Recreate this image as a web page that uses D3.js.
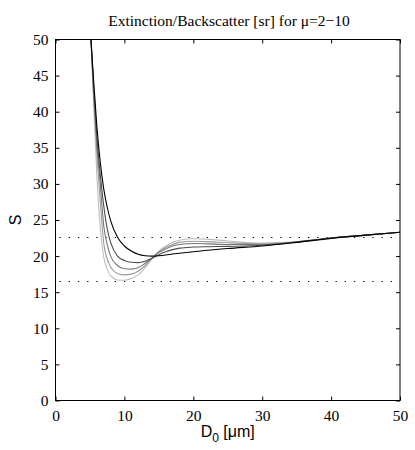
<!DOCTYPE html>
<html>
<head>
<meta charset="utf-8" />
<title>Extinction/Backscatter</title>
<style>
  html, body { margin: 0; background: #fff; }
  svg text { fill: #000; }
</style>
</head>
<body>
<div id="container"></div>
<script src="https://cdn.jsdelivr.net/npm/d3@7"></script>
<script>
var diam = [5.15, 5.5, 6, 6.5, 7, 7.5, 8, 9, 10, 11, 12, 13, 14, 15, 16, 17, 18, 20, 22, 25, 30, 35, 40, 45, 50];

// S [sr] for mu = 2, 4, 6, 8, 10 (black -> light grey)
var sMu2  = [50, 44.8, 38.0, 33.0, 29.3, 26.8, 24.9, 22.6, 21.4, 20.7, 20.25, 20.05, 20.0, 20.05, 20.15, 20.3, 20.4, 20.6, 20.8, 21.05, 21.4, 21.9, 22.45, 22.9, 23.3];
var sMu4  = [50, 44.0, 36.6, 31.3, 27.0, 23.8, 21.9, 20.0, 19.4, 19.15, 19.1, 19.3, 19.7, 20.2, 20.6, 20.9, 21.1, 21.25, 21.3, 21.35, 21.5, 21.95, 22.5, 22.9, 23.3];
var sMu6  = [50, 43.4, 35.5, 30.0, 24.2, 21.6, 20.0, 18.7, 18.25, 18.2, 18.4, 19.0, 19.7, 20.5, 21.0, 21.4, 21.6, 21.75, 21.7, 21.6, 21.6, 21.95, 22.5, 22.9, 23.3];
var sMu8  = [50, 42.8, 34.3, 27.6, 21.8, 19.6, 18.5, 17.6, 17.4, 17.5, 17.9, 18.7, 19.7, 20.6, 21.2, 21.6, 21.9, 22.05, 22.0, 21.85, 21.7, 21.95, 22.5, 22.9, 23.3];
var sMu10 = [50, 41.8, 31.2, 24.0, 19.9, 18.2, 17.3, 16.7, 16.65, 16.9, 17.4, 18.4, 19.6, 20.7, 21.4, 21.9, 22.2, 22.4, 22.35, 22.1, 21.8, 22.0, 22.5, 22.9, 23.3];

var series = [sMu2, sMu4, sMu6, sMu8, sMu10];
var greys = ["#000000", "#4d4d4d", "#777777", "#9c9c9c", "#bdbdbd"];

// dotted reference levels
var refLevels = [22.6, 16.5];

var xTicks = [0, 10, 20, 30, 40, 50];
var yTicks = [0, 5, 10, 15, 20, 25, 30, 35, 40, 45, 50];

var W = 415, H = 450;
// note: "top" is taken by window.top, so use m-prefixed margins
var mLeft = 55.5, mRight = 400, mTop = 39.5, mBottom = 400.5;

var x = d3.scaleLinear().domain([0, 50]).range([mLeft, mRight]);
var y = d3.scaleLinear().domain([0, 50]).range([mBottom, mTop]);

var svg = d3.select("#container").append("svg")
    .attr("width", W).attr("height", H);

svg.append("defs").append("clipPath").attr("id", "plotclip")
  .append("rect")
    .attr("x", mLeft).attr("y", mTop)
    .attr("width", mRight - mLeft).attr("height", mBottom - mTop);

var plot = svg.append("g").attr("clip-path", "url(#plotclip)");

// dotted lines
plot.selectAll("line.ref").data(refLevels).enter().append("line")
    .attr("class", "ref")
    .attr("x1", x(0) + 4).attr("x2", x(50))
    .attr("y1", function(d) { return Math.round(y(d)) + 0.5; })
    .attr("y2", function(d) { return Math.round(y(d)) + 0.5; })
    .attr("stroke", "#000")
    .attr("stroke-width", 1.2)
    .attr("stroke-dasharray", "1.3,7.9");

var line = d3.line()
    .x(function(d, i) { return x(diam[i]); })
    .y(function(d) { return y(d); })
    .curve(d3.curveMonotoneX);

// draw light ones first so black ends up on top
plot.selectAll("path.curve").data(series.slice().reverse()).enter().append("path")
    .attr("class", "curve")
    .attr("d", line)
    .attr("fill", "none")
    .attr("stroke", function(d, i) { return greys[greys.length - 1 - i]; })
    .attr("stroke-width", 1.1);

// box + inward ticks (matlab style)
var axes = svg.append("g");
axes.append("rect")
    .attr("x", mLeft).attr("y", mTop)
    .attr("width", mRight - mLeft).attr("height", mBottom - mTop)
    .attr("fill", "none").attr("stroke", "#000").attr("stroke-width", 1);

var tl = 4;
axes.append("g").attr("transform", "translate(0," + mBottom + ")")
    .call(d3.axisBottom(x).tickValues(xTicks).tickSizeInner(-tl).tickSizeOuter(0).tickPadding(9));
axes.append("g").attr("transform", "translate(0," + mTop + ")")
    .call(d3.axisTop(x).tickValues(xTicks).tickSizeInner(-tl).tickSizeOuter(0).tickFormat(""));
axes.append("g").attr("transform", "translate(" + mLeft + ",0)")
    .call(d3.axisLeft(y).tickValues(yTicks).tickSizeInner(-tl).tickSizeOuter(0).tickPadding(7));
axes.append("g").attr("transform", "translate(" + mRight + ",0)")
    .call(d3.axisRight(y).tickValues(yTicks).tickSizeInner(-tl).tickSizeOuter(0).tickFormat(""));

axes.selectAll(".domain").remove();
axes.selectAll(".tick line").attr("stroke", "#000");
axes.selectAll(".tick text")
    .attr("font-family", "'Liberation Serif', 'DejaVu Serif', serif")
    .attr("font-size", 15.5)
    .attr("fill", "#000");

// title
svg.append("text")
    .attr("x", 229).attr("y", 26)
    .attr("text-anchor", "middle")
    .attr("font-family", "'Liberation Serif', 'DejaVu Serif', serif")
    .attr("font-size", 15.5)
    .text("Extinction/Backscatter [sr] for \u03bc=2\u221210");

// x label
var xl = svg.append("text")
    .attr("x", (mLeft + mRight) / 2).attr("y", 437)
    .attr("text-anchor", "middle")
    .attr("font-family", "'Liberation Sans', Arial, sans-serif")
    .attr("font-size", 16);
xl.append("tspan").text("D");
xl.append("tspan").attr("dy", 5).attr("font-size", 12).text("0");
xl.append("tspan").attr("dy", -5).text(" [\u03bcm]");

// y label
svg.append("text")
    .attr("transform", "translate(21," + y(25) + ") rotate(-90)")
    .attr("text-anchor", "middle")
    .attr("font-family", "'Liberation Sans', Arial, sans-serif")
    .attr("font-size", 16)
    .text("S");
</script>
</body>
</html>
